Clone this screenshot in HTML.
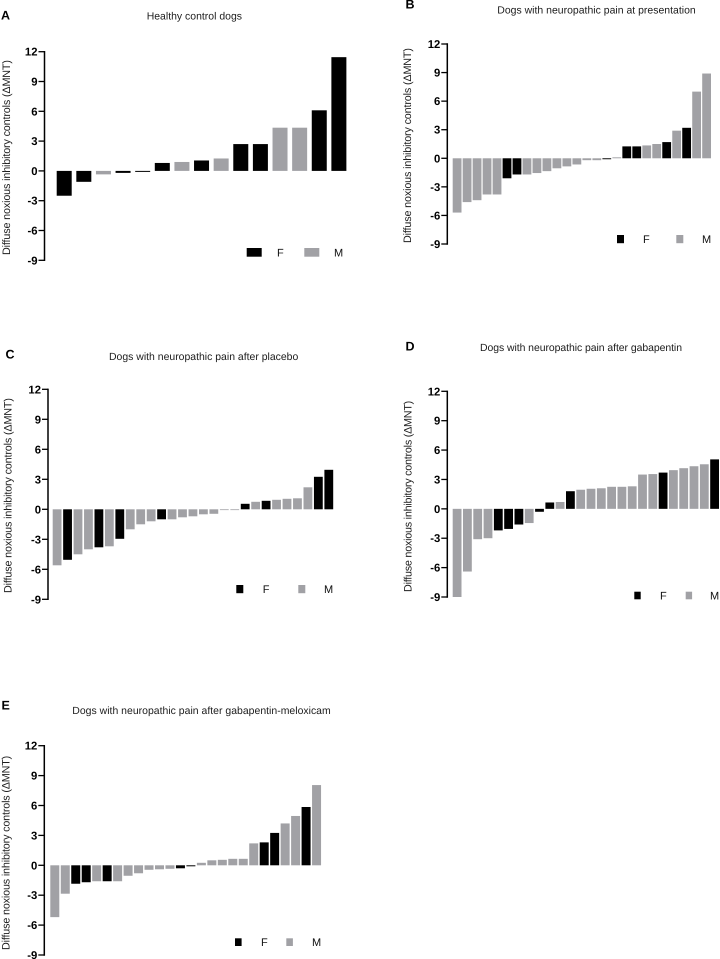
<!DOCTYPE html>
<html lang="en">
<head>
<meta charset="utf-8">
<title>Diffuse noxious inhibitory controls in dogs</title>
<style>
html,body{margin:0;padding:0;background:#fff;}
svg{display:block;font-family:"Liberation Sans",Arial,sans-serif;text-rendering:geometricPrecision;}
</style>
</head>
<body>
<svg id="figure" width="720" height="959" viewBox="0 0 720 959" xmlns="http://www.w3.org/2000/svg"></svg>
<script>
const tickValues = [12, 9, 6, 3, 0, -3, -6, -9];
const yAxisLabel = 'Diffuse noxious inhibitory controls (\u0394MNT)';

const valuesA = [-2.5, -1.1, -0.35, -0.2, -0.1, 0.8, 0.9, 1.05, 1.25, 2.7, 2.7, 4.35, 4.35, 6.1, 11.45];
const sexA = ['F','F','M','F','F','F','M','F','M','F','F','M','M','F','F'];

const valuesB = [-5.7, -4.6, -4.4, -3.8, -3.8, -2.1, -1.7, -1.7, -1.55, -1.35, -1.05, -0.85, -0.65, -0.2, -0.2, -0.1, 0.1, 1.25, 1.25, 1.35, 1.5, 1.7, 2.9, 3.2, 7, 8.9];
const sexB = ['M','M','M','M','M','F','F','M','M','M','M','M','M','M','M','F','M','F','F','M','M','F','M','F','M','M'];

const valuesC = [-5.6, -5.05, -4.5, -4, -3.8, -3.7, -2.95, -2, -1.5, -1.2, -1, -1, -0.8, -0.7, -0.5, -0.45, -0.05, -0.05, 0.55, 0.75, 0.85, 0.95, 1.05, 1.1, 2.2, 3.25, 3.95];
const sexC = ['M','F','M','M','F','M','F','M','M','M','F','M','M','M','M','M','M','M','F','M','F','M','M','M','M','F','F'];

const valuesD = [-9, -6.4, -3.1, -3, -2.2, -2.05, -1.6, -1.45, -0.3, 0.65, 0.7, 1.8, 1.95, 2.05, 2.1, 2.25, 2.25, 2.3, 3.5, 3.55, 3.7, 3.95, 4.15, 4.35, 4.55, 5.05];
const sexD = ['M','M','M','M','F','F','F','M','F','F','M','F','M','M','M','M','M','M','M','M','F','M','M','M','M','F'];

const valuesE = [-5.2, -2.85, -1.85, -1.7, -1.6, -1.6, -1.6, -1.05, -0.8, -0.45, -0.4, -0.35, -0.3, -0.1, 0.25, 0.5, 0.55, 0.65, 0.65, 2.2, 2.3, 3.25, 4.2, 4.95, 5.85, 8.05];
const sexE = ['M','M','F','F','M','F','M','M','M','M','M','M','F','F','M','M','M','M','M','M','F','F','M','M','F','M'];

const colours = { F: '#000000', M: '#a1a1a5' };
const SVG_NS = 'http://www.w3.org/2000/svg';
const root = document.getElementById('figure');

function make(parent, tag, attrs, text) {
  const node = document.createElementNS(SVG_NS, tag);
  for (const key in attrs) node.setAttribute(key, attrs[key]);
  if (text !== undefined) node.textContent = text;
  parent.appendChild(node);
  return node;
}

function drawPanel(p) {
  const g = make(root, 'g', {});
  
  

  const yScale = v => p.yBottom + (v - tickValues[tickValues.length - 1]) * (p.yTop - p.yBottom) / (tickValues[0] - tickValues[tickValues.length - 1]);
  const xScale = i => p.barLeft + i * p.barStep;

  const letter = make(g, 'text', { x: p.letterX, y: p.letterY, 'font-size': 12.5, 'font-weight': 700, fill: '#000' }, p.id);
  
  

  const title = make(g, 'text', { x: p.titleX, y: p.titleY, 'font-size': 10.45, fill: '#1c1c1c', textLength: p.titleWidth }, p.title);
  
  

  const yTitleMid = (p.labelTop + p.labelBottom) / 2;
  const yTitle = make(g, 'text', {
    x: 0, y: 0, 'font-size': 10.8, fill: '#1c1c1c', 'text-anchor': 'middle',
    textLength: p.labelBottom - p.labelTop,
    transform: 'translate(' + (p.labelX + 3.5) + ' ' + yTitleMid + ') rotate(-90)'
  }, yAxisLabel);
  
  

  p.values.forEach((v, i) => {
    const top = Math.min(yScale(v), yScale(0));
    const height = Math.max(Math.abs(yScale(v) - yScale(0)), 0.8);
    const bar = make(g, 'rect', { x: xScale(i), y: top, width: p.barWidth, height: height, fill: colours[p.sex[i]] });
    
    
  });

  const axis = make(g, 'line', { x1: p.axisX, x2: p.axisX, y1: yScale(tickValues[0]) - 0.7, y2: yScale(tickValues[tickValues.length - 1]) + 0.7, stroke: '#000', 'stroke-width': 1.5 });
  
  

  tickValues.forEach(t => {
    const tick = make(g, 'line', { x1: p.axisX - 6, x2: p.axisX, y1: yScale(t), y2: yScale(t), stroke: '#000', 'stroke-width': 1.3 });
    
    
    const label = make(g, 'text', { x: p.axisX - 7, y: yScale(t) + 4, 'font-size': 11.3, 'font-weight': 700, fill: '#000', 'text-anchor': 'end' }, String(t));
    
    
  });

  const swatchF = make(g, 'rect', { x: p.legFX, y: p.legY, width: p.legW, height: p.legH, fill: colours.F });
  
  
  const textF = make(g, 'text', { x: p.legFText, y: p.legY + p.legH / 2 + 4, 'font-size': 11, fill: '#111' }, 'F');
  
  
  const swatchM = make(g, 'rect', { x: p.legMX, y: p.legY, width: p.legW, height: p.legH, fill: colours.M });
  
  
  const textM = make(g, 'text', { x: p.legMText, y: p.legY + p.legH / 2 + 4, 'font-size': 11, fill: '#111' }, 'M');
  
  
}

drawPanel({ id: 'A', title: 'Healthy control dogs', values: valuesA, sex: sexA,
  axisX: 44.5, yTop: 51.7, yBottom: 260.3, barLeft: 56.7, barStep: 19.62, barWidth: 15,
  letterX: 1, letterY: 19.5, titleX: 146.7, titleY: 19.5, titleWidth: 95.3,
  labelX: 6.7, labelTop: 60, labelBottom: 255,
  legFX: 246.7, legMX: 304.3, legY: 248, legW: 15, legH: 8.7, legFText: 277, legMText: 334 });

drawPanel({ id: 'B', title: 'Dogs with neuropathic pain at presentation', values: valuesB, sex: sexB,
  axisX: 447.3, yTop: 44, yBottom: 244, barLeft: 452.7, barStep: 9.98, barWidth: 8.8,
  letterX: 405.5, letterY: 8.5, titleX: 497.3, titleY: 13.5, titleWidth: 198.4,
  labelX: 407.3, labelTop: 48, labelBottom: 243,
  legFX: 617, legMX: 676.3, legY: 235, legW: 7, legH: 8.2, legFText: 643, legMText: 702 });

drawPanel({ id: 'C', title: 'Dogs with neuropathic pain after placebo', values: valuesC, sex: sexC,
  axisX: 48, yTop: 389.3, yBottom: 599.3, barLeft: 52.7, barStep: 10.45, barWidth: 8.8,
  letterX: 5.5, letterY: 358.5, titleX: 109, titleY: 360.2, titleWidth: 189.3,
  labelX: 8, labelTop: 398, labelBottom: 593,
  legFX: 236.3, legMX: 298.3, legY: 585, legW: 7, legH: 8.2, legFText: 262.7, legMText: 324 });

drawPanel({ id: 'D', title: 'Dogs with neuropathic pain after gabapentin', values: valuesD, sex: sexD,
  axisX: 447.3, yTop: 391.3, yBottom: 597, barLeft: 452.7, barStep: 10.3, barWidth: 8.8,
  letterX: 405.5, letterY: 350.5, titleX: 480, titleY: 350.8, titleWidth: 202,
  labelX: 408, labelTop: 400.7, labelBottom: 592,
  legFX: 634.3, legMX: 685.7, legY: 591.7, legW: 6.4, legH: 7.6, legFText: 660, legMText: 710 });

drawPanel({ id: 'E', title: 'Dogs with neuropathic pain after gabapentin-meloxicam', values: valuesE, sex: sexE,
  axisX: 44.3, yTop: 745.7, yBottom: 955, barLeft: 50.3, barStep: 10.47, barWidth: 9,
  letterX: 1.5, letterY: 709.5, titleX: 72.3, titleY: 714.2, titleWidth: 258.4,
  labelX: 6, labelTop: 755.7, labelBottom: 950,
  legFX: 235, legMX: 286.3, legY: 938.3, legW: 6.6, legH: 7.7, legFText: 261, legMText: 312 });
</script>
</body>
</html>
